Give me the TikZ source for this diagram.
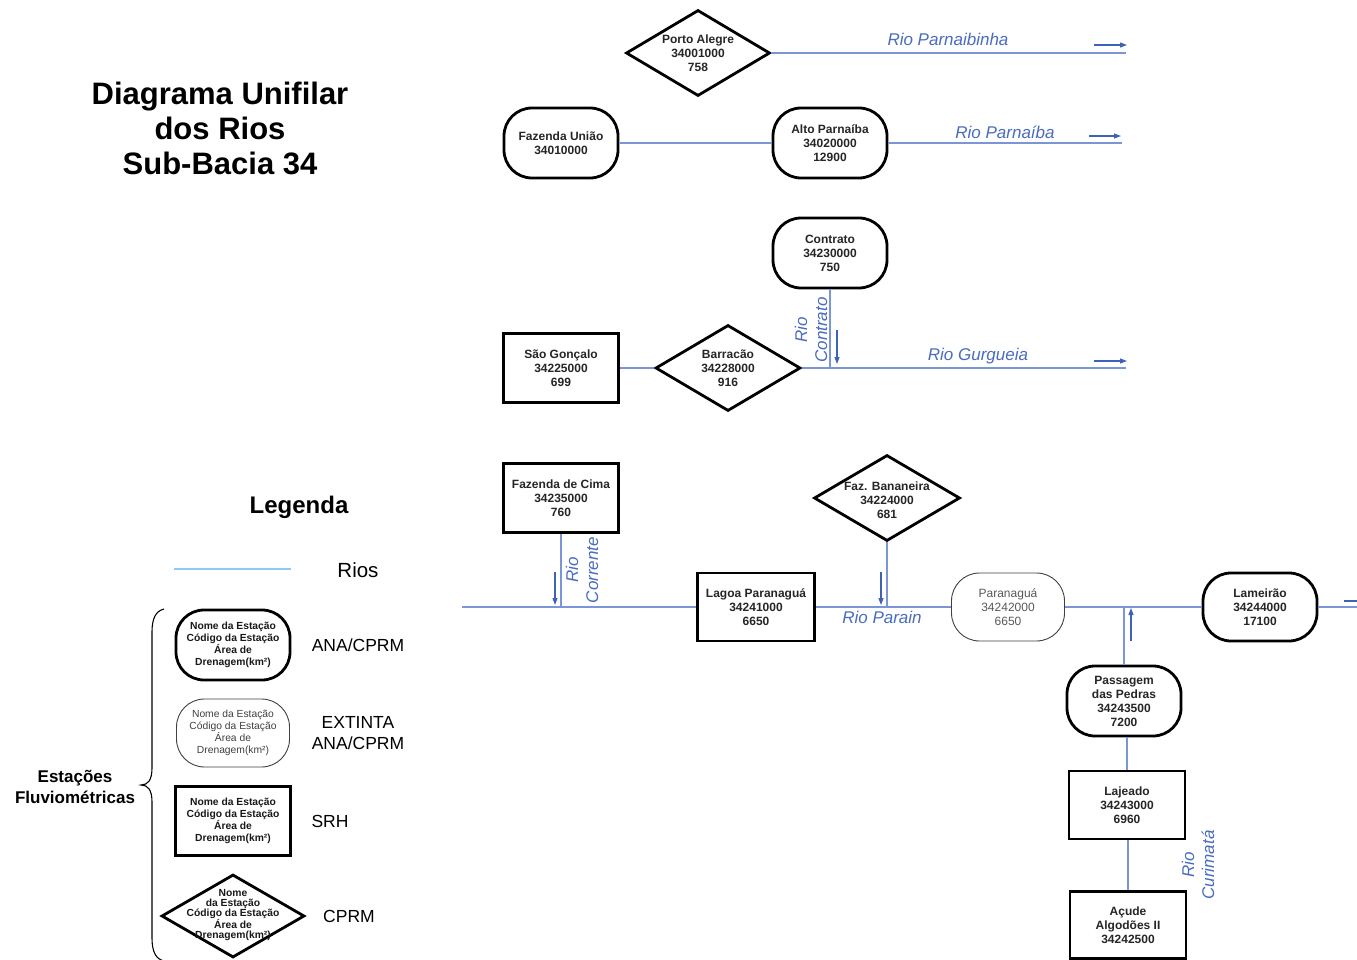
\documentclass[tikz,border=0pt]{standalone}
\usepackage{fontspec}
\setmainfont{Liberation Sans}
\usetikzlibrary{shapes.geometric,arrows.meta}
\definecolor{riv}{HTML}{7B96D6}
\definecolor{rivtxt}{HTML}{4A6CC0}
\definecolor{arr}{HTML}{3D63B8}
\definecolor{legline}{HTML}{8FCBF0}
\begin{document}
\begin{tikzpicture}[x=1pt,y=-1pt,
  st/.style={font=\fontsize{12}{14}\selectfont\bfseries, align=center, text=black!85, inner sep=0pt},
  lt/.style={font=\fontsize{10.3}{12}\selectfont\bfseries, align=center, text=black!90, inner sep=0pt},
  ana/.style={draw, line width=2.8pt, rounded corners=28pt, minimum width=114pt, minimum height=70pt},
  ext/.style={draw=black!75, line width=0.9pt, rounded corners=28pt, minimum width=113pt, minimum height=68pt},
  srh/.style={draw, line width=2.8pt, minimum width=115pt, minimum height=69pt},
  cprm/.style={draw, line width=2.8pt, diamond, inner sep=0pt, minimum width=144pt, minimum height=86pt},
  river/.style={draw=riv, line width=1.4pt},
  flow/.style={draw=arr, line width=1.1pt, -{Triangle[length=7pt,width=5pt]}},
  rlab/.style={font=\fontsize{17}{20}\selectfont\itshape, text=rivtxt, align=center, inner sep=0pt},
  leglab/.style={font=\fontsize{17.5}{20.5}\selectfont, align=center, inner sep=0pt}
]
\fill[white] (0,0) rectangle (1357,960);
\useasboundingbox (0,0) rectangle (1357,960);

% Title
\node[font=\fontsize{31}{35}\selectfont\bfseries, align=center] (title) at (220,128) {Diagrama Unifilar\\dos Rios\\Sub-Bacia 34};

% Stations
\node[cprm, label={[st]center:Porto Alegre\\34001000\\758}] (pa) at (698,53) {};
\node[ana, st] (fu) at (561,143) {Fazenda União\\34010000};
\node[ana, st] (ap) at (830,143) {Alto Parnaíba\\34020000\\12900};
\node[ana, st] (ct) at (830,253) {Contrato\\34230000\\750};
\node[srh, st] (sg) at (561,368) {São Gonçalo\\34225000\\699};
\node[cprm, minimum width=145pt, label={[st]center:Barracão\\34228000\\916}] (ba) at (728,368) {};
\node[srh, st] (fc) at (561,498) {Fazenda de Cima\\34235000\\760};
\node[cprm, minimum width=146pt, label={[st, yshift=-2pt]center:Faz. Bananeira\\34224000\\681}] (fb) at (887,498) {};
\node[srh, st, minimum width=117pt, minimum height=68pt] (lp) at (756,607) {Lagoa Paranaguá\\34241000\\6650};
\node[ext, st, font=\fontsize{12}{14}\selectfont, text=black!65] (pg) at (1008,607) {Paranaguá\\34242000\\6650};
\node[ana, st, minimum height=68pt] (lm) at (1260,607) {Lameirão\\34244000\\17100};
\node[ana, st] (pp) at (1124,701) {Passagem\\das Pedras\\34243500\\7200};
\node[srh, st, minimum width=116pt, minimum height=68pt] (lj) at (1127,805) {Lajeado\\34243000\\6960};
\node[srh, st, minimum width=116pt, minimum height=67pt] (aa) at (1128,925) {Açude\\Algodões II\\34242500};

% River end coordinates
\coordinate (e1) at (1126,53);
\coordinate (e2) at (1122,143);
\coordinate (e3) at (1126,368);
\coordinate (s0) at (462,607);
\coordinate (e4) at (1357,607);

% Rivers
\draw[river] (pa.east) -- (e1);
\draw[river] (fu.east) -- (ap.west);
\draw[river] (ap.east) -- (e2);
\draw[river] (sg.east) -- (ba.west);
\draw[river] (ba.east) -- (e3);
\draw[river] (ct.south) -- (ct.south |- ba.east);
\draw[river] (s0) -- (lp.west);
\draw[river] (lp.east) -- (pg.west);
\draw[river] (pg.east) -- (lm.west);
\draw[river] (lm.east) -- (e4);
\draw[river] (fc.south) -- (fc.south |- lp.west);
\draw[river] (fb.south) -- (fb.south |- lp.west);
\draw[river] (pp.north) -- (pp.north |- lm.west);
\draw[river] (lj.north) -- (lj.north |- pp.south);
\draw[river] (aa.north) -- (aa.north |- lj.south);

% Flow arrows
\coordinate (a1s) at (1094,45); \coordinate (a1e) at (1127,45);
\coordinate (a2s) at (1089,136); \coordinate (a2e) at (1121,136);
\coordinate (a3s) at (1094,361); \coordinate (a3e) at (1127,361);
\coordinate (a4s) at (837,330); \coordinate (a4e) at (837,364);
\coordinate (a5s) at (555,572); \coordinate (a5e) at (555,605);
\coordinate (a6s) at (881,572); \coordinate (a6e) at (881,605);
\coordinate (a7s) at (1131,641); \coordinate (a7e) at (1131,608);
\coordinate (a8s) at (1344,601); \coordinate (a8e) at (1357,601);
\draw[flow] (a1s) -- (a1e);
\draw[flow] (a2s) -- (a2e);
\draw[flow] (a3s) -- (a3e);
\draw[flow] (a4s) -- (a4e);
\draw[flow] (a5s) -- (a5e);
\draw[flow] (a6s) -- (a6e);
\draw[flow] (a7s) -- (a7e);
\draw[draw=arr, line width=1.1pt] (a8s) -- (a8e);

% River labels
\node[rlab] (l1) at (948,39) {Rio Parnaibinha};
\node[rlab] (l2) at (1005,132) {Rio Parnaíba};
\node[rlab] (l3) at (978,356) {Rio Gurgueia};
\node[rlab, rotate=90] (l4) at (811,330) {Rio\\Contrato};
\node[rlab, rotate=90] (l5) at (582,570) {Rio\\Corrente};
\node[rlab] (l6) at (882,617) {Rio Parain};
\node[rlab, rotate=90] (l7) at (1198,865) {Rio\\Curimatá};

% Legend
\node[font=\fontsize{24}{28}\selectfont\bfseries] (leg) at (299,507) {Legenda};
\coordinate (r1) at (174,569); \coordinate (r2) at (291,569);
\draw[legline, line width=2pt] (r1) -- (r2);
\node[font=\fontsize{20.5}{24}\selectfont, inner sep=0pt] (rios) at (358,570) {Rios};

\node[ana, lt] (k1) at (233,645) {Nome da Estação\\Código da Estação\\Área de\\Drenagem(km²)};
\node[ext, lt, font=\fontsize{10.3}{12}\selectfont, text=black!75] (k2) at (233,733) {Nome da Estação\\Código da Estação\\Área de\\Drenagem(km²)};
\node[srh, lt] (k3) at (233,821) {Nome da Estação\\Código da Estação\\Área de\\Drenagem(km²)};
\node[cprm, minimum width=143pt, minimum height=83pt, label={[lt, font=\fontsize{10.3}{10}\selectfont\bfseries, yshift=1pt]center:Nome\\da Estação\\Código da Estação\\Área de\\Drenagem(km²)}] (k4) at (233,916) {};

\node[leglab] (t1) at (358,645) {ANA/CPRM};
\node[leglab] (t2) at (358,733) {EXTINTA\\ANA/CPRM};
\node[leglab] (t3) at (330,821) {SRH};
\node[leglab] (t4) at (349,916) {CPRM};

\node[font=\fontsize{17}{21}\selectfont\bfseries, align=center, inner sep=0pt] (ef) at (75,787) {Estações\\Fluviométricas};

% Brace
\draw[line width=1.1pt] (164,609) .. controls (156,611) and (152,618) .. (152,632) -- (152,768) .. controls (152,780) and (148,785) .. (141,785) .. controls (148,785) and (152,790) .. (152,802) -- (152,938) .. controls (152,952) and (156,959) .. (164,961);
\end{tikzpicture}
\end{document}
